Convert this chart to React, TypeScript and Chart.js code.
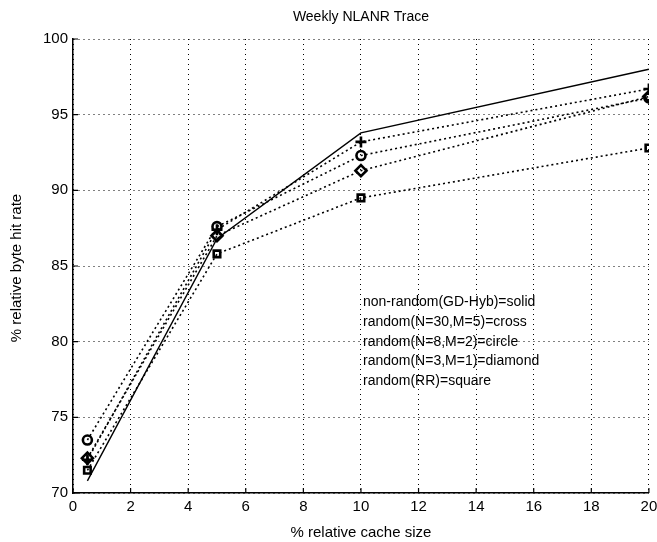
import React, { useEffect, useRef } from "react";
import { Chart, registerables } from "chart.js";

Chart.register(...registerables);

const cacheSizes = [0.5, 5, 10, 20];
const solidGD = [70.8, 86.8, 93.8, 98.0];
const crossN30 = [72.2, 87.4, 93.2, 96.7];
const circleN8 = [73.5, 87.6, 92.3, 96.1];
const diamondN3 = [72.3, 87.0, 91.3, 96.2];
const squareRR = [71.5, 85.8, 89.5, 92.8];

const xTicks = [0, 2, 4, 6, 8, 10, 12, 14, 16, 18, 20];
const yTicks = [70, 75, 80, 85, 90, 95, 100];

const chartTitle = "Weekly NLANR Trace";
const xTitle = "% relative cache size";
const yTitle = "% relative byte hit rate";
const noteLines = [
  "non-random(GD-Hyb)=solid",
  "random(N=30,M=5)=cross",
  "random(N=8,M=2)=circle",
  "random(N=3,M=1)=diamond",
  "random(RR)=square",
];

const FONT = "'Liberation Sans', Arial, Helvetica, sans-serif";

export default function App() {
  const ref = useRef<HTMLCanvasElement | null>(null);

  useEffect(() => {
    document.body.style.margin = "0";
    const canvas = ref.current;
    if (!canvas) return;
    const pts = (ys: number[]) => cacheSizes.map((x, i) => ({ x, y: ys[i] }));
    const dotted = {
      borderColor: "#000",
      borderWidth: 1.6,
      borderDash: [2, 3],
      backgroundColor: "rgba(0,0,0,0)",
      pointBorderColor: "#000",
      pointBackgroundColor: "rgba(0,0,0,0)",
      pointBorderWidth: 2.6,
      fill: false,
      tension: 0,
    };

    const overlay = {
      id: "overlay",
      afterDraw(chart: any) {
        const ctx = chart.ctx;
        const xs = chart.scales.x;
        const ys = chart.scales.y;
        const area = chart.chartArea;
        ctx.save();
        ctx.strokeStyle = "#000";
        ctx.lineWidth = 1.2;
        ctx.setLineDash([]);
        ctx.beginPath();
        xTicks.forEach((t) => {
          const px = xs.getPixelForValue(t);
          ctx.moveTo(px, area.bottom);
          ctx.lineTo(px, area.bottom - 5);
        });
        yTicks.forEach((t) => {
          const py = ys.getPixelForValue(t);
          ctx.moveTo(area.left, py);
          ctx.lineTo(area.left + 5, py);
        });
        ctx.stroke();
        ctx.fillStyle = "#000";
        ctx.textAlign = "center";
        ctx.textBaseline = "middle";
        ctx.font = `14px ${FONT}`;
        ctx.fillText(chartTitle, (area.left + area.right) / 2, 17);
        ctx.font = `15px ${FONT}`;
        ctx.fillText(xTitle, (area.left + area.right) / 2, 533);
        ctx.save();
        ctx.translate(17, (area.top + area.bottom) / 2 + 2);
        ctx.rotate(-Math.PI / 2);
        ctx.fillText(yTitle, 0, 0);
        ctx.restore();
        ctx.textAlign = "left";
        ctx.font = `14px ${FONT}`;
        const nx = xs.getPixelForValue(10.07);
        const y0 = ys.getPixelForValue(82.6);
        const dy = ys.getPixelForValue(82.6) - ys.getPixelForValue(83.9);
        noteLines.forEach((s, i) => ctx.fillText(s, nx, y0 + i * dy));
        ctx.restore();
      },
    };

    const chart = new Chart(canvas, {
      type: "line",
      data: {
        datasets: [
          {
            label: "non-random(GD-Hyb)",
            data: pts(solidGD),
            borderColor: "#000",
            borderWidth: 1.4,
            pointRadius: 0,
            fill: false,
            tension: 0,
          },
          { label: "random(N=30,M=5)", data: pts(crossN30), ...dotted, pointStyle: "cross", pointRadius: 5.5 },
          { label: "random(N=8,M=2)", data: pts(circleN8), ...dotted, pointStyle: "circle", pointRadius: 4.5 },
          { label: "random(N=3,M=1)", data: pts(diamondN3), ...dotted, pointStyle: "rectRot", pointRadius: 5.5 },
          { label: "random(RR)", data: pts(squareRR), ...dotted, pointStyle: "rect", pointRadius: 4.6 },
        ] as any,
      },
      options: {
        responsive: false,
        animation: false,
        events: [],
        layout: { padding: { top: 39, right: 0, left: 0, bottom: 0 } },
        plugins: { legend: { display: false }, tooltip: { enabled: false }, title: { display: false } },
        scales: {
          x: {
            type: "linear",
            min: 0,
            max: 20,
            afterFit: (s: any) => {
              s.height = 49;
              s.paddingLeft = 0;
              s.paddingRight = 8;
            },
            afterBuildTicks: (s: any) => {
              s.ticks = xTicks.map((v) => ({ value: v }));
            },
            ticks: { color: "#000", font: { size: 15, family: FONT }, padding: 5, maxRotation: 0, autoSkip: false },
            grid: { color: "#000", lineWidth: 1, drawTicks: false },
            border: { display: true, color: "#000", width: 1.5, dash: [1, 4] },
          },
          y: {
            type: "linear",
            min: 70,
            max: 100,
            afterFit: (s: any) => {
              s.width = 73;
              s.paddingTop = 0;
              s.paddingBottom = 0;
            },
            afterBuildTicks: (s: any) => {
              s.ticks = yTicks.map((v) => ({ value: v }));
            },
            ticks: { color: "#000", font: { size: 15, family: FONT }, padding: 5, autoSkip: false },
            grid: { color: "#000", lineWidth: 1, drawTicks: false },
            border: { display: true, color: "#000", width: 1.5, dash: [1, 4] },
          },
        },
      },
      plugins: [overlay],
    } as any);

    return () => chart.destroy();
  }, []);

  return (
    <div style={{ width: 657, height: 542, background: "#fff" }}>
      <canvas ref={ref} width={657} height={542} style={{ display: "block" }} />
    </div>
  );
}
